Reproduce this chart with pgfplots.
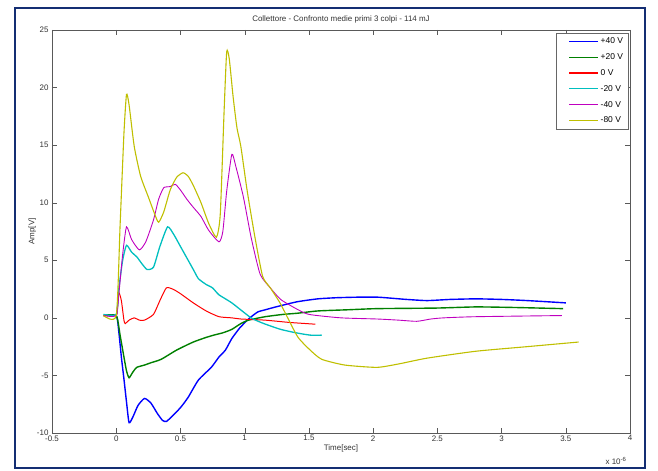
\documentclass[border=0pt]{standalone}
\usepackage{fontspec}
\setmainfont{Liberation Sans}
\usepackage{pgfplots}
\pgfplotsset{compat=1.18}

\definecolor{mblue}{rgb}{0,0,1}
\definecolor{mgreen}{rgb}{0,0.5,0}
\definecolor{mred}{rgb}{1,0,0}
\definecolor{mcyan}{rgb}{0,0.75,0.75}
\definecolor{mmagenta}{rgb}{0.75,0,0.75}
\definecolor{myellow}{rgb}{0.75,0.75,0}
\definecolor{frame}{rgb}{0.08,0.18,0.45}

\pgfplotsset{
    legend image code/.code={
        \path (-9bp,0bp);
        \draw[#1, line width=1.2pt, sharp plot] (0bp,0.3bp) -- (29bp,0.3bp);},
}

\begin{document}
\begin{tikzpicture}[x=1bp,y=1bp]
\useasboundingbox (-52,-38) rectangle (606,433);
\draw[frame, line width=2bp] (-37,-35) rectangle (593,425);
\begin{axis}[
    at={(0,0)}, anchor=south west,
    width=578bp, height=403bp,
    scale only axis=true,
    xmin=-0.5, xmax=4,
    ymin=-10, ymax=25,
    xtick={-0.5,0,...,4},
    ytick={-10,-5,...,25},
    tick align=inside,
    major tick length=5bp,
    axis line style={black!65},
    tick style={black!65},
    every tick label/.append style={font=\fontsize{8}{9}\selectfont, text=black!80},
    /pgf/number format/assume math mode=true,
    xticklabel style={yshift=1bp},
    title={Collettore - Confronto medie primi 3 colpi - 114 mJ},
    title style={font=\fontsize{8}{9}\selectfont, text=black!80, yshift=-3bp},
    xlabel={Time[sec]},
    ylabel={Amp[V]},
    xlabel style={font=\fontsize{8}{9}\selectfont, text=black!80, yshift=3bp},
    ylabel style={font=\fontsize{8}{9}\selectfont, text=black!80, yshift=-6bp},
    legend style={
        at={(rel axis cs:0.997,0.993)}, anchor=north east,
        font=\fontsize{8.5}{10}\selectfont,
        draw=black!60, fill=white,
        row sep=4.4bp, inner xsep=3bp, inner ysep=3bp,
        cells={anchor=west}
    },
]

% +40 V
\addplot[color=mblue, draw=mblue, line width=1.4pt, smooth, tension=0.35] coordinates {
(-0.1,0.2)(0,0.2)(0.02,-1.2)(0.04,-3.4)(0.06,-5.3)(0.08,-7.3)(0.1,-9.1)(0.13,-8.6)
(0.17,-7.6)(0.22,-7.0)(0.27,-7.4)(0.32,-8.3)(0.36,-8.9)(0.39,-9.0)(0.43,-8.6)(0.5,-7.8)
(0.56,-6.9)(0.64,-5.4)(0.74,-4.3)(0.8,-3.4)(0.85,-2.8)(0.9,-1.8)(0.96,-0.9)(1.03,-0.1)
(1.1,0.5)(1.16,0.7)(1.26,1.0)(1.41,1.4)(1.57,1.65)(1.72,1.75)(1.9,1.8)(2.03,1.8)
(2.15,1.7)(2.26,1.6)(2.42,1.5)(2.6,1.6)(2.8,1.65)(3.0,1.6)(3.2,1.5)(3.5,1.3)
};
\addlegendentry{+40 V}

% +20 V
\addplot[color=mgreen, draw=mgreen, line width=1.4pt, smooth, tension=0.35] coordinates {
(-0.1,0.2)(0,0.2)(0.03,-1.5)(0.06,-3.4)(0.08,-4.6)(0.1,-5.2)(0.13,-4.7)(0.16,-4.3)
(0.22,-4.1)(0.27,-3.9)(0.35,-3.6)(0.47,-2.8)(0.6,-2.1)(0.7,-1.7)(0.76,-1.5)(0.83,-1.3)
(0.9,-1.0)(0.97,-0.5)(1.03,-0.2)(1.16,0.1)(1.3,0.3)(1.41,0.4)(1.57,0.6)(1.8,0.7)
(2.03,0.8)(2.49,0.85)(2.8,0.95)(3.1,0.9)(3.48,0.8)
};
\addlegendentry{+20 V}

% 0 V
\addplot[color=mred, draw=mred, line width=1pt, smooth, tension=0.35] coordinates {
(-0.1,0.2)(0,0.2)(0.01,1.0)(0.02,2.2)(0.04,1.5)(0.06,-0.2)(0.07,-0.5)(0.1,-0.2)
(0.14,0)(0.18,-0.2)(0.22,-0.2)(0.29,0.3)(0.34,1.5)(0.39,2.6)(0.44,2.5)(0.5,2.1)
(0.6,1.3)(0.7,0.6)(0.8,0.1)(0.9,0)(0.97,-0.1)(1.16,-0.2)(1.35,-0.4)(1.55,-0.55)
};
\addlegendentry{0 V}

% -20 V
\addplot[color=mcyan, draw=mcyan, line width=1.3pt, smooth, tension=0.35] coordinates {
(-0.1,0.3)(0,0.3)(0.02,2.5)(0.05,5.0)(0.08,6.3)(0.12,5.7)(0.16,5.3)(0.2,4.7)
(0.24,4.2)(0.29,4.4)(0.34,6.2)(0.4,7.9)(0.45,7.2)(0.5,6.2)(0.6,4.2)(0.64,3.4)
(0.7,2.9)(0.75,2.6)(0.8,2.0)(0.9,1.3)(1.05,0)(1.15,-0.5)(1.28,-1.0)(1.4,-1.3)
(1.51,-1.5)(1.6,-1.5)
};
\addlegendentry{-20 V}

% -40 V
\addplot[color=mmagenta, draw=mmagenta, line width=0.9pt, smooth, tension=0.35] coordinates {
(-0.1,0.2)(0,0.2)(0.02,2)(0.05,5.5)(0.08,7.9)(0.12,6.8)(0.18,5.9)(0.23,6.6)
(0.29,8.5)(0.33,10.3)(0.37,11.3)(0.42,11.4)(0.46,11.6)(0.5,11.1)(0.55,10.3)(0.6,9.6)
(0.66,8.8)(0.72,7.6)(0.8,6.6)(0.83,7.5)(0.86,11.0)(0.9,14.2)(0.93,13.2)(0.99,10.5)
(1.05,7.0)(1.12,3.8)(1.2,2.6)(1.28,1.6)(1.4,0.8)(1.5,0.3)(1.75,0)(2.03,-0.1)
(2.2,-0.2)(2.34,-0.3)(2.45,-0.1)(2.55,0)(2.8,0.1)(3.47,0.2)
};
\addlegendentry{-40 V}

% -80 V
\addplot[color=myellow, draw=myellow, line width=1.1pt, smooth, tension=0.35] coordinates {
(-0.1,0.2)(0,0.2)(0.03,8)(0.06,16)(0.08,19.4)(0.1,18.5)(0.14,14.9)(0.19,12.3)
(0.25,10.5)(0.3,9)(0.33,8.3)(0.37,9.2)(0.42,11.1)(0.47,12.2)(0.52,12.6)(0.56,12.3)
(0.6,11.5)(0.66,10.0)(0.72,8.2)(0.78,7.0)(0.81,9)(0.84,18)(0.86,23.1)(0.88,22.5)
(0.91,19.2)(0.94,16.5)(0.97,14.9)(1.02,11)(1.08,7.0)(1.14,3.6)(1.2,2.6)(1.28,1.2)
(1.41,-1.6)(1.51,-2.8)(1.6,-3.6)(1.78,-4.1)(2.03,-4.3)(2.2,-4.0)(2.42,-3.5)(2.8,-2.9)
(3.2,-2.5)(3.6,-2.1)
};
\addlegendentry{-80 V}

\end{axis}
\node[font=\fontsize{8}{9}\selectfont, text=black!80, anchor=east] at (578,-28) {x 10\textsuperscript{-6}};
\end{tikzpicture}
\end{document}
